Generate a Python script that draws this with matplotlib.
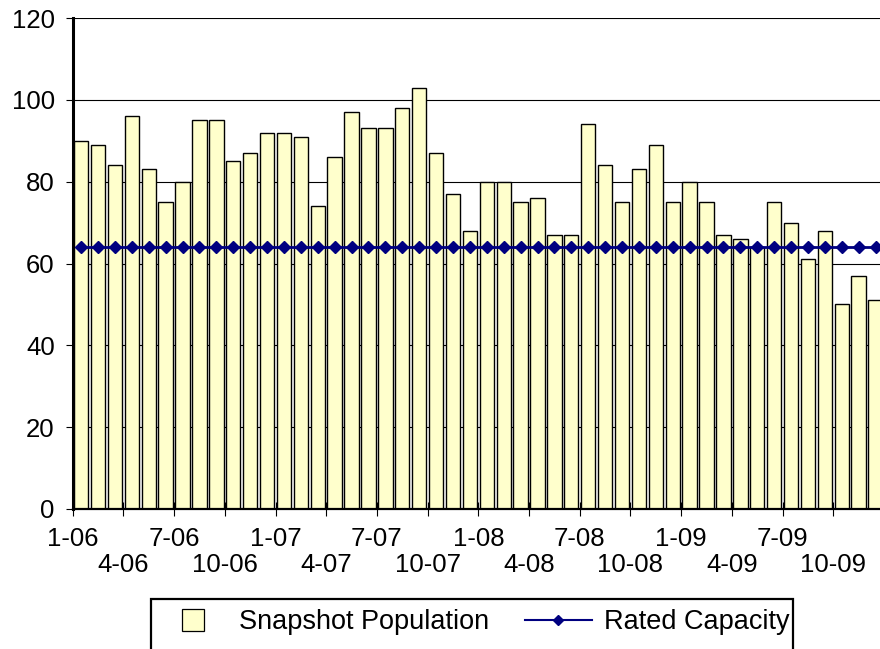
import matplotlib.pyplot as plt
import matplotlib.lines as mlines
import matplotlib.patches as mpatches

plt.rcParams['font.family'] = ['Liberation Sans', 'DejaVu Sans']

months = [f"{m}-{y:02d}" for y in range(6, 10) for m in range(1, 13)]
population = [90, 89, 84, 96, 83, 75, 80, 95, 95, 85, 87, 92,
              92, 91, 74, 86, 97, 93, 93, 98, 103, 87, 77, 68,
              80, 80, 75, 76, 67, 67, 94, 84, 75, 83, 89, 75,
              80, 75, 67, 66, 64, 75, 70, 61, 68, 50, 57, 51]
capacity = [64] * 48

x = list(range(len(months)))

fig = plt.figure(figsize=(8.8, 6.49), dpi=100)
ax = fig.add_axes([72.7 / 880, 140 / 649, 811.3 / 880, 491 / 649])

ax.bar(x, population, width=0.85, color='#FFFFCC', edgecolor='black',
       linewidth=1.0, zorder=2)
# line runs on past the last month to the edge of the picture
ax.plot(x + [48.5], capacity + [capacity[-1]], color='#000080', linewidth=2,
        marker='D', markersize=6.5, markevery=list(range(48)), zorder=3,
        clip_on=False)

ax.set_ylim(0, 120)
ax.set_xlim(-0.5, 47.5)
ax.set_yticks(range(0, 121, 20))
ax.yaxis.grid(True, color='black', linewidth=0.8)
ax.set_axisbelow(True)

# labels every 3 months, on two staggered rows
row1 = [i * 6 - 0.5 for i in range(8)]
row2 = [i * 6 + 2.5 for i in range(8)]
ax.set_xticks(row1)
ax.set_xticklabels([months[i * 6] for i in range(8)])
ax.set_xticks(row2, minor=True)
ax.set_xticklabels([months[i * 6 + 3] for i in range(8)], minor=True)

ax.tick_params(axis='x', which='both', direction='inout', length=10, width=0.8,
               labelsize=18.5)
ax.tick_params(axis='x', which='major', pad=8)
ax.tick_params(axis='x', which='minor', pad=26.5)
ax.tick_params(axis='y', direction='out', length=5, width=0.8, labelsize=18.5, pad=8)

for s in ['top', 'right']:
    ax.spines[s].set_visible(False)
ax.spines['left'].set_linewidth(2.2)
ax.spines['bottom'].set_linewidth(1.6)

h1 = mlines.Line2D([], [], linestyle='none', marker='s', markersize=15.5,
                   markerfacecolor='#FFFFCC', markeredgecolor='black', markeredgewidth=0.9)
h2 = mlines.Line2D([], [], color='#000080', linewidth=1.5, marker='D', markersize=5)
leg = fig.legend([h1, h2], ['Snapshot Population', 'Rated Capacity'],
                 loc='center left', bbox_to_anchor=(159.5 / 880, 1 - 622 / 649),
                 ncol=2, fontsize=19.5, frameon=False,
                 borderpad=0, handlelength=2.48, handletextpad=0.44,
                 columnspacing=1.33, borderaxespad=0)

# legend box, open at the bottom edge of the picture
frame = mpatches.Rectangle((151 / 880, -0.05), 642 / 880, 0.05 + 50 / 649,
                           transform=fig.transFigure, fill=False,
                           edgecolor='black', linewidth=1.6)
fig.patches.append(frame)

fig.savefig('out.png', dpi=100)
